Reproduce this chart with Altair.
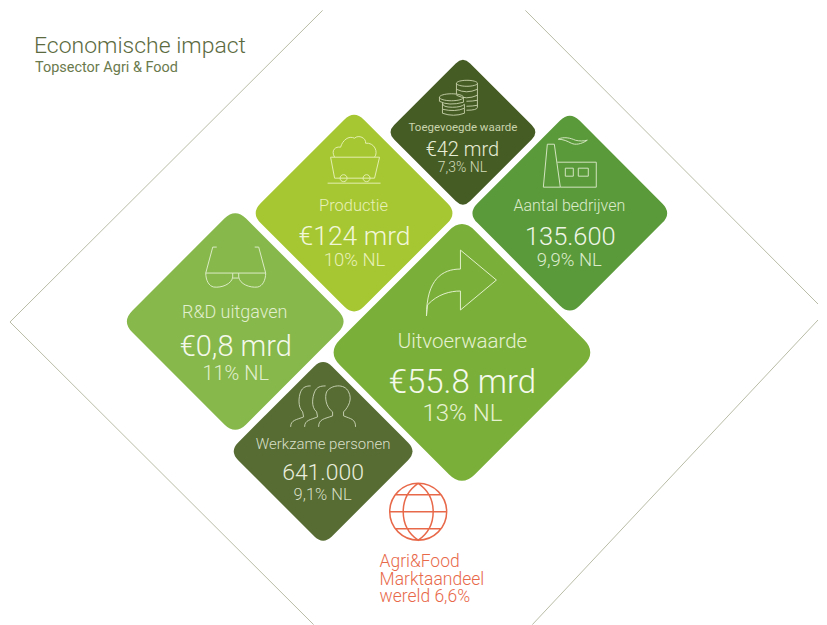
import altair as alt
import pandas as pd

# ---- data (pixel space of the infographic) ----
tile_names = ["Toegevoegde waarde", "Productie", "Aantal bedrijven", "R&D uitgaven", "Uitvoerwaarde", "Werkzame personen"]
tile_cx = [463.5, 354.5, 570.5, 235.5, 462.5, 323.5]
tile_cy = [132, 213, 213, 321.5, 352.5, 451.5]
tile_r = [72.5, 98.5, 97.5, 108.5, 128.5, 89.5]
tile_color = ["#465c25", "#a6c731", "#5a9a3a", "#86b84b", "#7ab039", "#566c32"]

frame_x1 = [323, 10, 526, 819]
frame_y1 = [10, 322, 10, 320]
frame_x2 = [10, 314, 819, 533]
frame_y2 = [322, 625, 304, 625]

lab_text = ["Toegevoegde waarde", "€42 mrd", "7,3% NL",
            "Productie", "€124 mrd", "10% NL",
            "Aantal bedrijven", "135.600", "9,9% NL",
            "R&D uitgaven", "€0,8 mrd", "11% NL",
            "Uitvoerwaarde", "€55.8 mrd", "13% NL",
            "Werkzame personen", "641.000", "9,1% NL"]
lab_x = [463.5, 463, 463, 354, 355, 355, 570, 571, 570, 235, 236, 236, 463, 463, 463, 323.5, 323.5, 323]
lab_y = [131, 156, 172, 211, 245, 266, 211, 245, 266, 318, 356, 380, 348, 393, 421, 449, 480, 500]
lab_size = [11.5, 20, 14, 16.5, 26.5, 18.5, 16, 25.5, 18.5, 18, 29, 20, 20.5, 33, 24, 15, 23, 16.5]
lab_weight = [400, 300, 300, 300, 300, 300, 300, 300, 300, 300, 300, 300, 300, 300, 300, 300, 300, 300]
lab_color = ["#c9d4ad", "#e6edd6", "#d3dcbc",
             "#e6f0b8", "#f1f6d8", "#e6f0b8",
             "#dcebcc", "#eef5e6", "#dcebcc",
             "#e2efcf", "#f4f8ea", "#e2efcf",
             "#e6f1d2", "#f5f9ec", "#e6f1d2",
             "#d8dfc8", "#e9eddd", "#d8dfc8"]

left_text = ["Economische impact", "Topsector Agri & Food", "Agri&Food", "Marktaandeel", "wereld 6,6%"]
left_x = [34, 35, 380, 380, 380]
left_y = [53, 72, 567, 585, 602]
left_size = [23, 14.5, 17.5, 17.5, 17.5]
left_weight = [300, 400, 300, 300, 300]
left_color = ["#5c6b3f", "#6a7a4d", "#e8694a", "#e8694a", "#e8694a"]

# Rounded diamond outline (unit half-diagonal) and line icons (pixel offsets)
DIAMOND = ("M0.1,-0.95 L0.95,-0.1 Q1.05,0 0.95,0.1 L0.1,0.95 Q0,1.05 -0.1,0.95 "
           "L-0.95,0.1 Q-1.05,0 -0.95,-0.1 L-0.1,-0.95 Q0,-1.05 0.1,-0.95 Z")

COINS = ("M-2,-15 a10.5,3 0 1,0 21,0 a10.5,3 0 1,0 -21,0 M-2,-15 L-2,-4 M19,-15 L19,9 Q19,12 8,12 "
         "M-2,-9 Q8,-4 19,-9 M-2,-3 Q8,2 19,-3 M8,3 Q14,3 19,2 M8,8 Q14,8 19,7 "
         "M-19,-1 a12,3.5 0 1,0 24,0 a12,3.5 0 1,0 -24,0 M-19,-1 L-19,3 Q-10,8 5,4 L5,-1 "
         "M-16,5 Q-16,9 -6,9 Q3,9 6,6 L6,10 Q-3,14 -16,11 Z M-16,11 L-16,15 Q-5,19 6,15 L6,10")
CART = ("M-24,-3 L25,-3 L20,18 L-20,18 Z M-7.5,18 a3.5,3.5 0 1,1 -7,0 a3.5,3.5 0 1,1 7,0 "
        "M15.5,18 a3.5,3.5 0 1,1 -7,0 a3.5,3.5 0 1,1 7,0 M-27,23 L26,23 "
        "M-20,-3 C-24,-10 -19,-14 -14,-13 C-12,-20 -6,-25 0,-22 C4,-26 12,-22 11,-17 C20,-18 24,-8 20,-3")
FACTORY = ("M-22,-19 L-15,-19 L-9,24 L-26,24 Z M-12,-1 L27,-1 L27,24 L-9,24 "
           "M-4,5 L4,5 L4,13 L-4,13 Z M9,5 L19,5 L19,13 L9,13 Z "
           "M-11,-24 C-6,-27 2,-25 6,-23 C10,-22 14,-22 18,-23 C12,-19 6,-18 2,-20 C-2,-22 -6,-24 -11,-24 Z")
ARROW = "M34,-3 L-2,-33 L-2,-14 C-20,-14 -36,-4 -36,33 L-35,22 C-25,11 -12,8 -2,8 L-2,27 Z"
GLASSES = ("M-30,5 L-3,5 L-3,9 C-4,16 -14,20 -22,19 C-27,18 -30,12 -30,5 Z "
           "M30,5 L3,5 L3,9 C4,16 14,20 22,19 C27,18 30,12 30,5 Z "
           "M-3,5 L3,5 M-3,10 L3,10 M-30,5 L-23,-21 L-19,-21 M30,5 L23,-21 L19,-21")
PEOPLE = ("M-4,20 C-4,12 2,12 10,9 L10,5 C3,0 2,-10 4,-15 C8,-22 22,-24 26,-15 C30,-8 26,0 21,5 L21,9 C28,12 33,12 33,20 "
          "M-18,20 C-18,13 -12,13 -5,10 L-6,5 C-12,0 -10,-10 -8,-15 C-6,-20 -2,-21 3,-21 "
          "M-32,20 C-32,13 -26,13 -19,10 L-20,5 C-25,0 -24,-10 -22,-15 C-20,-20 -16,-21 -12,-21")
GLOBE = ("M-28.5,0 A28.5,28.5 0 1,1 28.5,0 A28.5,28.5 0 1,1 -28.5,0 "
         "M0,-28.5 C20,-15 20,15 0,28.5 C-20,15 -20,-15 0,-28.5 "
         "M-28.5,0 L28.5,0 M-23,-17 L23,-17 M-23,17 L23,17")

icon_path = [COINS, CART, FACTORY, ARROW, GLASSES, PEOPLE, GLOBE]
icon_x = [459, 355, 570, 463, 236, 323, 418.7]
icon_y = [98, 160, 163, 283, 268, 407, 512]
icon_color = ["#c9d4ad", "#e3eeb0", "#d3e4c0", "#e2efcb", "#dcebc6", "#d0d8bd", "#e8694a"]
icon_width = [0.9, 1, 1, 1, 1, 0.9, 1.5]

FONT = "Roboto"
W, H = 811, 617
xs = alt.Scale(domain=[8, 819], nice=False, zero=False)
ys = alt.Scale(domain=[625, 8], nice=False, zero=False)
X = alt.X("x:Q", scale=xs, axis=None)
Y = alt.Y("y:Q", scale=ys, axis=None)

frame = alt.Chart(pd.DataFrame({"x": frame_x1, "y": frame_y1, "x2": frame_x2, "y2": frame_y2})).mark_rule(
    color="#b9bca6", strokeWidth=1
).encode(X, Y, x2="x2:Q", y2="y2:Q")

tiles = alt.Chart(pd.DataFrame({
    "name": tile_names, "x": tile_cx, "y": tile_cy, "r": tile_r, "c": tile_color
})).transform_calculate(s="4*datum.r*datum.r").mark_point(
    shape=DIAMOND, filled=True, opacity=1, strokeWidth=0
).encode(X, Y, size=alt.Size("s:Q", scale=None, legend=None), color=alt.Color("c:N", scale=None, legend=None))

layers = [frame, tiles]
for p, ix, iy, ic, iw in zip(icon_path, icon_x, icon_y, icon_color, icon_width):
    layers.append(
        alt.Chart(pd.DataFrame({"x": [ix], "y": [iy]})).mark_point(
            shape=p, size=4, filled=False, opacity=1, stroke=ic, strokeWidth=iw
        ).encode(X, Y)
    )

def text_layers(t, x, y, s, w, c, align):
    df = pd.DataFrame({"t": t, "x": x, "y": y, "s": s, "w": w, "c": c})
    out = []
    for weight in sorted(set(w)):
        out.append(alt.Chart(df[df.w == weight]).mark_text(
            align=align, baseline="alphabetic", font=FONT, fontWeight=weight
        ).encode(X, Y, text="t:N", size=alt.Size("s:Q", scale=None, legend=None),
                 color=alt.Color("c:N", scale=None, legend=None)))
    return out

layers += text_layers(lab_text, lab_x, lab_y, lab_size, lab_weight, lab_color, "center")
layers += text_layers(left_text, left_x, left_y, left_size, left_weight, left_color, "left")

chart = alt.layer(*layers).properties(width=W, height=H, padding=0, background="white").configure_view(stroke=None)
chart.save("out.html", embed_options={"renderer": "svg", "actions": False})
